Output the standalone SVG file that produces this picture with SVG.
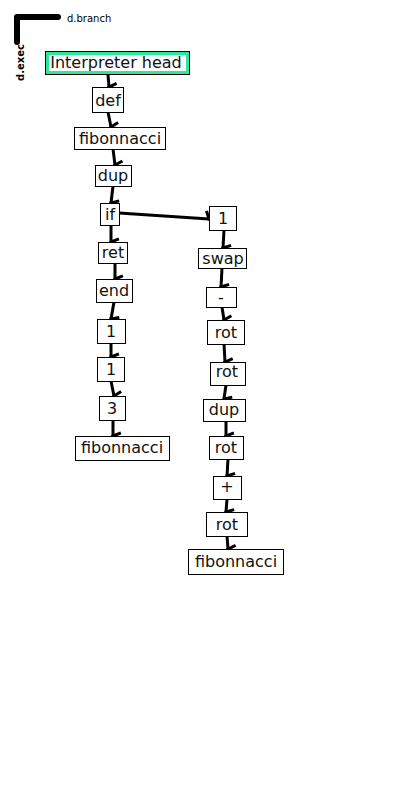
<svg xmlns="http://www.w3.org/2000/svg" width="400" height="800" viewBox="0 0 400 800">
<style>
.box{fill:#fff;stroke:#000;stroke-width:1}
.t{font-family:"DejaVu Sans",sans-serif;font-size:16px;fill:#111;text-anchor:middle}
.e{stroke:#000;stroke-width:3;fill:none;marker-end:url(#half)}
.lg{font-family:"DejaVu Sans",sans-serif;font-size:10px;fill:#000}
</style>
<defs>
<marker id="half" markerUnits="userSpaceOnUse" orient="auto" markerWidth="20" markerHeight="20" refX="0" refY="0" viewBox="-10 -10 20 20" overflow="visible">
<path d="M0,0 L-2.5,-6.5" stroke="#000" stroke-width="3" fill="none" stroke-linecap="square"/>
</marker>
</defs>
<rect width="400" height="800" fill="#fff"/>
<g id="legend">
<path d="M58,17 L17,17 L17,42" stroke="#000" stroke-width="6" fill="none" stroke-linecap="round" stroke-linejoin="round"/>
<text class="lg" x="67" y="22">d.branch</text>
<text class="lg" x="0" y="0" font-weight="bold" transform="translate(24,81) rotate(-90)">d.exec</text>
</g>
<g id="connectors">
<line class="e" x1="108" y1="75" x2="109" y2="87"/>
<line class="e" x1="108" y1="112" x2="111" y2="127"/>
<line class="e" x1="113" y1="149" x2="115" y2="165"/>
<line class="e" x1="113" y1="186" x2="111" y2="203"/>
<line class="e" x1="111" y1="225" x2="111" y2="242"/>
<line class="e" x1="115" y1="263" x2="115" y2="279"/>
<line class="e" x1="114" y1="302" x2="111" y2="319"/>
<line class="e" x1="111" y1="343" x2="111" y2="357"/>
<line class="e" x1="111" y1="381" x2="114" y2="396"/>
<line class="e" x1="113" y1="420" x2="113" y2="436"/>
<line class="e" x1="119" y1="213" x2="209" y2="219"/>
<line class="e" x1="224" y1="230" x2="223" y2="248"/>
<line class="e" x1="222" y1="268" x2="221" y2="287"/>
<line class="e" x1="222" y1="307" x2="224" y2="320"/>
<line class="e" x1="224" y1="344" x2="225" y2="362"/>
<line class="e" x1="226" y1="385" x2="224" y2="399"/>
<line class="e" x1="226" y1="421" x2="226" y2="436"/>
<line class="e" x1="228" y1="459" x2="227" y2="476"/>
<line class="e" x1="227" y1="499" x2="226" y2="512"/>
<line class="e" x1="227" y1="536" x2="228" y2="549"/>
</g>
<g id="n-head">
<rect x="45.5" y="51.5" width="144" height="23" fill="#fff" stroke="#000" stroke-width="1"/>
<rect x="47.5" y="53.5" width="140" height="19" fill="none" stroke="#2ee89a" stroke-width="3"/>
<text class="t" x="116" y="68">Interpreter head</text>
</g>
<g id="n-def"><rect class="box" x="92.5" y="87.5" width="31" height="25"/><text class="t" x="108" y="106">def</text></g>
<g id="n-fib1"><rect class="box" x="74.5" y="127.5" width="91" height="22"/><text class="t" x="120" y="144">fibonnacci</text></g>
<g id="n-dup1"><rect class="box" x="95.5" y="165.5" width="36" height="21"/><text class="t" x="113" y="181">dup</text></g>
<g id="n-if"><rect class="box" x="100.5" y="203.5" width="19" height="22"/><text class="t" x="110" y="220">if</text></g>
<g id="n-ret"><rect class="box" x="98.5" y="242.5" width="29" height="21"/><text class="t" x="113" y="258">ret</text></g>
<g id="n-end"><rect class="box" x="96.5" y="279.5" width="36" height="23"/><text class="t" x="114" y="296">end</text></g>
<g id="n-1a"><rect class="box" x="97.5" y="319.5" width="28" height="24"/><text class="t" x="111" y="337">1</text></g>
<g id="n-1b"><rect class="box" x="97.5" y="357.5" width="27" height="24"/><text class="t" x="111" y="375">1</text></g>
<g id="n-3"><rect class="box" x="99.5" y="396.5" width="26" height="24"/><text class="t" x="112" y="414">3</text></g>
<g id="n-fib2"><rect class="box" x="75.5" y="436.5" width="94" height="24"/><text class="t" x="122" y="453">fibonnacci</text></g>
<g id="n-1r"><rect class="box" x="209.5" y="206.5" width="27" height="24"/><text class="t" x="223" y="224">1</text></g>
<g id="n-swap"><rect class="box" x="198.5" y="248.5" width="48" height="20"/><text class="t" x="223" y="264">swap</text></g>
<g id="n-minus"><rect class="box" x="206.5" y="287.5" width="30" height="20"/><text class="t" x="221" y="303">-</text></g>
<g id="n-rot1"><rect class="box" x="207.5" y="320.5" width="37" height="24"/><text class="t" x="226" y="338">rot</text></g>
<g id="n-rot2"><rect class="box" x="210.5" y="362.5" width="35" height="23"/><text class="t" x="227" y="377">rot</text></g>
<g id="n-dup2"><rect class="box" x="203.5" y="399.5" width="42" height="22"/><text class="t" x="224" y="415">dup</text></g>
<g id="n-rot3"><rect class="box" x="209.5" y="436.5" width="34" height="23"/><text class="t" x="226" y="453">rot</text></g>
<g id="n-plus"><rect class="box" x="213.5" y="476.5" width="28" height="23"/><text class="t" x="227" y="492">+</text></g>
<g id="n-rot4"><rect class="box" x="206.5" y="512.5" width="41" height="24"/><text class="t" x="227" y="530">rot</text></g>
<g id="n-fib3"><rect class="box" x="188.5" y="549.5" width="95" height="25"/><text class="t" x="236" y="567">fibonnacci</text></g>
</svg>
